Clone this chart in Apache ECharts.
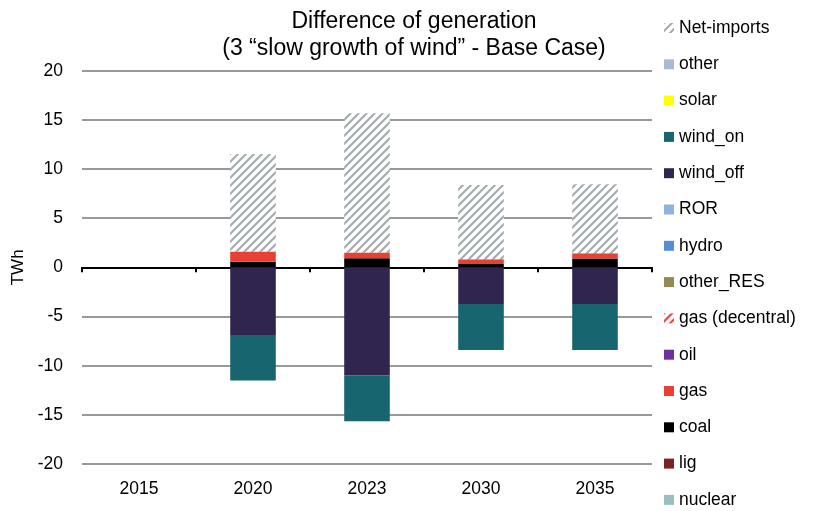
<!DOCTYPE html>
<html>
<head>
<meta charset="utf-8">
<script src="https://cdn.jsdelivr.net/npm/echarts@6/dist/echarts.min.js"></script>
<style>
html,body{margin:0;padding:0;background:#fff;}
#c{width:814px;height:511px;}
</style>
</head>
<body>
<div id="c"></div>
<script>
const categories = ['2015', '2020', '2023', '2030', '2035'];
const yTicks = [-20, -15, -10, -5, 0, 5, 10, 15, 20];
const nuclear = [0, 0, 0, 0, 0];
const lig = [0, 0, 0, 0, 0];
const coal = [0, 0.58, 0.93, 0.35, 0.89];
const gas = [0, 1.02, 0.57, 0.47, 0.54];
const oil = [0, 0, 0, 0, 0];
const gasDecentral = [0, 0, 0, 0, 0];
const otherRES = [0, 0, 0, 0, 0];
const hydro = [0, 0, 0, 0, 0];
const ror = [0, 0, 0, 0, 0];
const windOff = [0, -6.88, -10.98, -3.72, -3.72];
const windOn = [0, -4.64, -4.68, -4.68, -4.68];
const solar = [0, 0, 0, 0, 0];
const other = [0, 0, 0, 0, 0];
const netImports = [0, 9.94, 14.18, 7.56, 7.02];

function hatch(color, bg) {
  const c = document.createElement('canvas');
  c.width = 8; c.height = 8;
  const g = c.getContext('2d');
  g.fillStyle = bg; g.fillRect(0, 0, 8, 8);
  g.strokeStyle = color; g.lineWidth = 2.2;
  g.beginPath();
  g.moveTo(-2, 10); g.lineTo(10, -2);
  g.moveTo(-6, 6); g.lineTo(6, -6);
  g.moveTo(2, 14); g.lineTo(14, 2);
  g.stroke();
  return { image: c, repeat: 'repeat' };
}

const seriesDefs = [
  ['nuclear', nuclear, '#9BBFC1'],
  ['lig', lig, '#7B2226'],
  ['coal', coal, '#000000'],
  ['gas', gas, '#E84033'],
  ['oil', oil, '#7030A0'],
  ['gas (decentral)', gasDecentral, hatch('#E84033', '#ffffff')],
  ['other_RES', otherRES, '#948A54'],
  ['hydro', hydro, '#558ED5'],
  ['ROR', ror, '#8DB3E2'],
  ['wind_off', windOff, '#30254F'],
  ['wind_on', windOn, '#17666F'],
  ['solar', solar, '#FFFF00'],
  ['other', other, '#A9B9D6'],
  ['Net-imports', netImports, hatch('#A5ACAF', '#ffffff')]
];

const font = 'Liberation Sans, Arial, sans-serif';
const chart = echarts.init(document.getElementById('c'), null, { renderer: 'canvas' });
chart.setOption({
  animation: false,
  backgroundColor: '#ffffff',
  title: {
    text: 'Difference of generation\n(3 \u201Cslow growth of wind\u201D - Base Case)',
    left: 414, top: 8, textAlign: 'center', padding: 0,
    textStyle: { fontFamily: font, fontSize: 23, fontWeight: 'normal', color: '#000', lineHeight: 27 }
  },
  legend: {
    orient: 'vertical', left: 664, top: 18, height: 494, padding: 0,
    itemWidth: 10, itemHeight: 10, itemGap: 16.3,
    icon: 'rect',
    data: seriesDefs.map(d => d[0]).slice().reverse(),
    textStyle: { fontFamily: font, fontSize: 17.5, color: '#000', lineHeight: 20 }
  },
  grid: { left: 82, right: 162, top: 70.7, bottom: 47, containLabel: false },
  xAxis: [
    {
      type: 'category', data: categories, position: 'bottom',
      axisLine: { onZero: true, lineStyle: { color: '#000', width: 2 } },
      axisTick: { show: true, length: 5, lineStyle: { color: '#000', width: 2 } },
      axisLabel: { show: false }
    },
    {
      type: 'category', data: categories, position: 'bottom',
      axisLine: { show: false, onZero: false }, axisTick: { show: false },
      axisLabel: { margin: 16, fontFamily: font, fontSize: 17.5, color: '#000' }
    }
  ],
  yAxis: {
    type: 'value', min: yTicks[0], max: yTicks[yTicks.length - 1], interval: 5,
    name: 'TWh', nameLocation: 'middle', nameGap: 51, nameRotate: 90,
    nameTextStyle: { fontFamily: font, fontSize: 17, color: '#000' },
    axisLine: { show: false }, axisTick: { show: false },
    axisLabel: { margin: 19, fontFamily: font, fontSize: 17.5, color: '#000' },
    splitLine: { lineStyle: { color: '#999999', width: 2 } }
  },
  series: seriesDefs.map(d => ({
    name: d[0], type: 'bar', stack: 'total', data: d[1], xAxisIndex: 0,
    barWidth: '40%',
    itemStyle: { color: d[2] },
    emphasis: { disabled: true }
  }))
});
</script>
</body>
</html>
